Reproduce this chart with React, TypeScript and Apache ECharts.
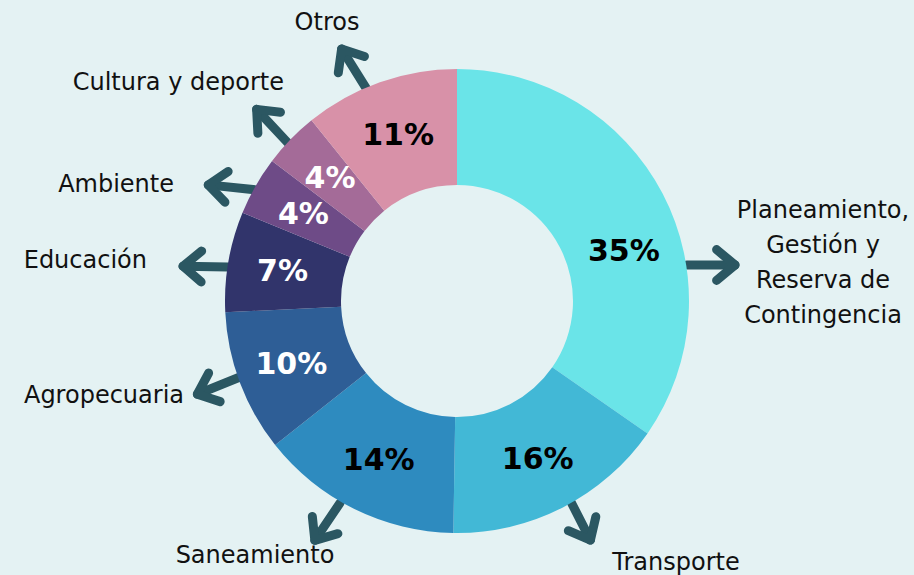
import React, { useEffect, useRef } from "react";
import * as echarts from "echarts";

const categories = [
  "Planeamiento,\nGestión y\nReserva de\nContingencia",
  "Transporte",
  "Saneamiento",
  "Agropecuaria",
  "Educación",
  "Ambiente",
  "Cultura y deporte",
  "Otros",
];
const shares = [34.7, 15.6, 14.1, 9.9, 7.0, 4.1, 3.9, 10.8];
const sliceColors = ["#6ae4e8", "#42b8d6", "#2e8bbf", "#2e5e96", "#31346b", "#6e4b87", "#a46b98", "#d891a8"];
const valueLabelColors = ["#000000", "#000000", "#000000", "#ffffff", "#ffffff", "#ffffff", "#ffffff", "#000000"];

// layout: arrow tails, directions and name label anchors
const arrowLayout = [
  { x: 687, y: 265, deg: 0, len: 48 },
  { x: 570, y: 500, deg: 63, len: 45 },
  { x: 340, y: 503, deg: 124, len: 45 },
  { x: 240, y: 377, deg: 158, len: 46 },
  { x: 228, y: 267, deg: 181, len: 45 },
  { x: 257, y: 190, deg: 186, len: 49 },
  { x: 288, y: 143, deg: 227, len: 46 },
  { x: 366, y: 88, deg: 238, len: 46 },
];
const nameLayout = [
  { x: 823, y: 210, align: "center" },
  { x: 676, y: 562, align: "center" },
  { x: 255, y: 555, align: "center" },
  { x: 184, y: 395, align: "right" },
  { x: 147, y: 260, align: "right" },
  { x: 174, y: 184, align: "right" },
  { x: 284, y: 82, align: "right" },
  { x: 327, y: 22, align: "center" },
];

const ARROW_COLOR = "#2b5762";
const FONT = "'DejaVu Sans', 'Noto Sans', sans-serif";

export default function App() {
  const ref = useRef<HTMLDivElement>(null);
  useEffect(() => {
    if (!ref.current) return;
    const chart = echarts.init(ref.current, null, { renderer: "svg" });
    const graphics: any[] = [];
    arrowLayout.forEach((a) => {
      const r = (a.deg * Math.PI) / 180;
      const tx = a.x + a.len * Math.cos(r);
      const ty = a.y + a.len * Math.sin(r);
      const h = 24;
      const spread = (40 * Math.PI) / 180;
      const p1 = [tx - h * Math.cos(r - spread), ty - h * Math.sin(r - spread)];
      const p2 = [tx - h * Math.cos(r + spread), ty - h * Math.sin(r + spread)];
      graphics.push({
        type: "line",
        z: 0,
        shape: { x1: a.x, y1: a.y, x2: tx, y2: ty },
        style: { stroke: ARROW_COLOR, lineWidth: 9, lineCap: "round" },
      });
      graphics.push({
        type: "polyline",
        z: 0,
        shape: { points: [p1, [tx, ty], p2] },
        style: { stroke: ARROW_COLOR, lineWidth: 9, lineCap: "round", lineJoin: "round", fill: null },
      });
    });
    categories.forEach((c, i) => {
      const n = nameLayout[i];
      const multi = c.indexOf("\n") >= 0;
      graphics.push({
        type: "text",
        x: n.x,
        y: multi ? n.y - 17.5 : n.y,
        style: {
          text: c,
          fill: "#111111",
          font: `500 24px ${FONT}`,
          align: n.align,
          verticalAlign: multi ? "top" : "middle",
          lineHeight: 35,
        },
      });
    });

    chart.setOption({
      animation: false,
      backgroundColor: "#e4f2f3",
      graphic: { elements: graphics },
      series: [
        {
          type: "pie",
          center: [457, 301],
          radius: [116, 232],
          startAngle: 90,
          clockwise: true,
          silent: true,
          z: 5,
          labelLine: { show: false },
          data: categories.map((c, i) => ({
            name: c,
            value: shares[i],
            itemStyle: { color: sliceColors[i] },
            label: {
              show: true,
              position: "inside",
              color: valueLabelColors[i],
              fontFamily: FONT,
              fontWeight: "bold",
              fontSize: 30,
              offset: i === 0 ? [10, 32] : [0, 0],
              formatter: () => Math.round(shares[i]) + "%",
            },
          })),
        },
      ],
    });
    return () => chart.dispose();
  }, []);
  return <div ref={ref} style={{ position: "absolute", left: 0, top: 0, width: 914, height: 575 }} />;
}
